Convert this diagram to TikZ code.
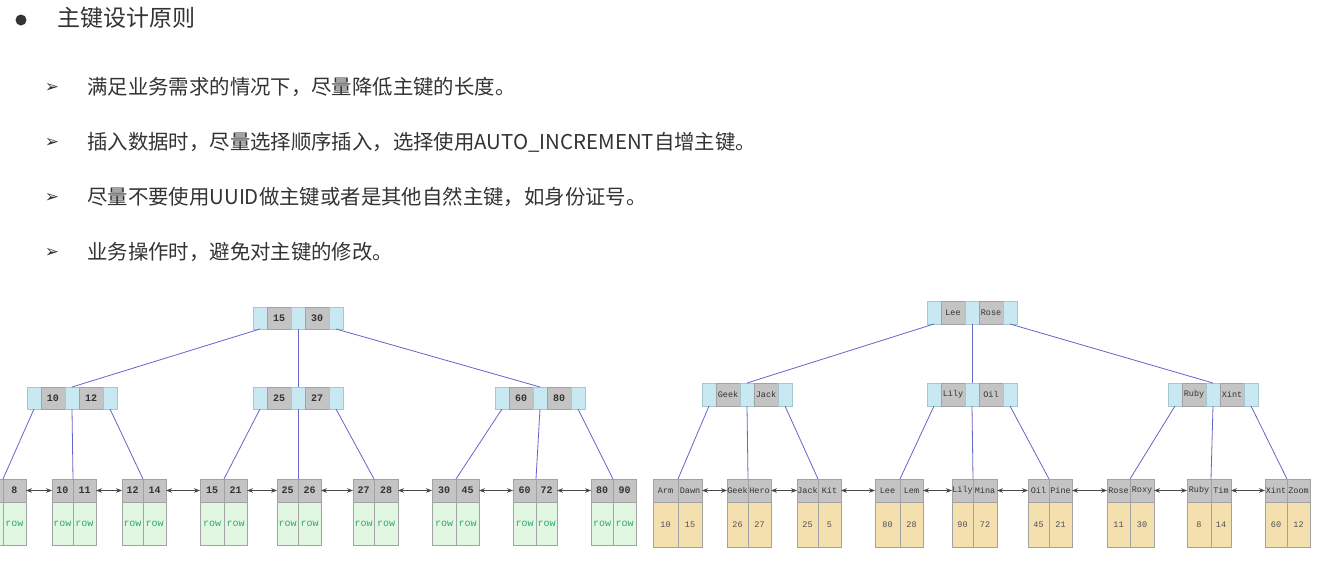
\documentclass[tikz,border=0pt]{standalone}
\usepackage{fontspec}
\setmainfont{Noto Sans CJK SC}
\newfontfamily\dejavu{DejaVu Sans}
\newfontfamily\monof{Liberation Mono}
\usetikzlibrary{arrows.meta}
\definecolor{txt}{HTML}{333333}
\definecolor{ptrfill}{HTML}{C8E8F2}
\definecolor{ptrline}{HTML}{A6C6D0}
\definecolor{keyfill}{HTML}{C4C4C4}
\definecolor{keyline}{HTML}{A2A2A2}
\definecolor{greenbody}{HTML}{E2F7E2}
\definecolor{greentxt}{HTML}{2EAA6A}
\definecolor{tanbody}{HTML}{F4E0AF}
\definecolor{tantxt}{HTML}{505050}
\definecolor{treeline}{HTML}{6666C8}
\definecolor{arrline}{HTML}{484848}
\tikzset{
  ptr/.style={rectangle, draw=ptrline, fill=ptrfill, minimum width=14pt, inner sep=0pt, outer sep=0pt},
  keyc/.style={rectangle, draw=keyline, fill=keyfill, minimum width=24pt, inner sep=0pt, outer sep=0pt, text=black!80},
  lhdr/.style={rectangle, draw=keyline, fill=keyfill, minimum height=23pt, inner sep=0pt, outer sep=0pt, text=black!80},
  lbody/.style={rectangle, draw=keyline, inner sep=0pt, outer sep=0pt},
  tl/.style={draw=treeline, line width=0.8pt},
  larr/.style={draw=arrline, line width=0.6pt, {Stealth[length=6pt,width=4.5pt]}-{Stealth[length=6pt,width=4.5pt]}},
  item/.style={anchor=west, text=txt, font=\fontsize{20.4}{24}\selectfont, inner sep=0pt},
  bmark/.style={text=txt, font=\dejavu\fontsize{17}{18}\selectfont, inner sep=0pt},
}
% internal node: #1 name, #2 x, #3 y, #4 key1, #5 key2, #6 height
\newcommand\inode[6]{%
  \node[ptr, minimum height=#6pt, anchor=north west] (#1p1) at (#2,#3) {};
  \node[keyc, minimum height=#6pt, anchor=north west] (#1k1) at (#1p1.north east) {#4};
  \node[ptr, minimum height=#6pt, anchor=north west] (#1p2) at (#1k1.north east) {};
  \node[keyc, minimum height=#6pt, anchor=north west] (#1k2) at (#1p2.north east) {#5};
  \node[ptr, minimum height=#6pt, anchor=north west] (#1p3) at (#1k2.north east) {};
}
% leaf: #1 name, #2 xl, #3 xd, #4 xr, #5 k1, #6 k2, #7 b1, #8 b2
\newcommand\leaf[8]{%
  \node[lhdr, anchor=north west, minimum width={(#3-(#2))*1pt}] (#1a) at (#2,479) {#5};
  \node[lhdr, anchor=north west, minimum width={(#4-(#3))*1pt}] (#1b) at (#3,479) {#6};
  \node[lbody, anchor=north west, minimum width={(#3-(#2))*1pt}] (#1c) at (#2,502) {#7};
  \node[lbody, anchor=north west, minimum width={(#4-(#3))*1pt}] (#1d) at (#3,502) {#8};
}
\begin{document}
\begin{tikzpicture}[x=1pt,y=-1pt]
\useasboundingbox (0,0) rectangle (1326,565);
\clip (0,0) rectangle (1326,565);
\fill[white] (0,0) rectangle (1326,565);

% ---- text ----
\fill[txt] (21,20) circle (5.5);
\node[anchor=west, text=txt, font=\fontsize{23}{27}\selectfont, inner sep=0pt] (title) at (57,18) {主键设计原则};
\node[bmark] (m1) at (52,88) {➢};
\node[item] (i1) at (87,87) {满足业务需求的情况下，尽量降低主键的长度。};
\node[bmark] (m2) at (52,143) {➢};
\node[item] (i2) at (87,142) {插入数据时，尽量选择顺序插入，选择使用AUTO\_INCREMENT自增主键。};
\node[bmark] (m3) at (52,198) {➢};
\node[item] (i3) at (87,197) {尽量不要使用UUID做主键或者是其他自然主键，如身份证号。};
\node[bmark] (m4) at (52,253) {➢};
\node[item] (i4) at (87,252) {业务操作时，避免对主键的修改。};

% ---- left tree ----
\begin{scope}[every node/.append style={font=\monof\bfseries\fontsize{10}{12}\selectfont},
  lbody/.append style={fill=greenbody, minimum height=43pt, text=greentxt, font=\monof\fontsize{10}{12}\selectfont}]
\inode{A}{253}{307}{15}{30}{22}
\inode{B}{27}{387}{10}{12}{22}
\inode{C}{253}{387}{25}{27}{22}
\inode{D}{495}{387}{60}{80}{22}
\leaf{La}{-19}{3}{26}{}{8}{}{row}
\leaf{Lb}{52}{73}{96}{10}{11}{row}{row}
\leaf{Lc}{122}{143}{166}{12}{14}{row}{row}
\leaf{Ld}{200}{224}{247}{15}{21}{row}{row}
\leaf{Le}{277}{298}{321}{25}{26}{row}{row}
\leaf{Lf}{353}{374}{398}{27}{28}{row}{row}
\leaf{Lg}{432}{456}{479}{30}{45}{row}{row}
\leaf{Lh}{513}{536}{557}{60}{72}{row}{row}
\leaf{Li}{591}{613}{636}{80}{90}{row}{row}
\end{scope}
\draw[tl] (Ap1.south) -- (Bp2.north);
\draw[tl] (Ap2.south) -- (Cp2.north);
\draw[tl] (Ap3.south) -- (Dp2.north);
\draw[tl] (Bp1.south) -- (Lab.north west);
\draw[tl] (Bp2.south) -- (Lbb.north west);
\draw[tl] (Bp3.south) -- (Lcb.north west);
\draw[tl] (Cp1.south) -- (Ldb.north west);
\draw[tl] (Cp2.south) -- (Leb.north west);
\draw[tl] (Cp3.south) -- (Lfb.north west);
\draw[tl] (Dp1.south) -- (Lgb.north west);
\draw[tl] (Dp2.south) -- (Lhb.north west);
\draw[tl] (Dp3.south) -- (Lib.north west);
\draw[larr] (Lab.east) -- (Lba.west);
\draw[larr] (Lbb.east) -- (Lca.west);
\draw[larr] (Lcb.east) -- (Lda.west);
\draw[larr] (Ldb.east) -- (Lea.west);
\draw[larr] (Leb.east) -- (Lfa.west);
\draw[larr] (Lfb.east) -- (Lga.west);
\draw[larr] (Lgb.east) -- (Lha.west);
\draw[larr] (Lhb.east) -- (Lia.west);

% ---- right tree ----
\begin{scope}[every node/.append style={font=\monof\fontsize{8.5}{10}\selectfont},
  lbody/.append style={fill=tanbody, minimum height=45pt, text=tantxt}]
\inode{R}{927}{301}{Lee}{Rose}{23}
\inode{S}{702}{383}{Geek}{Jack}{23}
\inode{T}{927}{383}{Lily}{Oil}{23}
\inode{U}{1168}{383}{Ruby}{Xint}{23}
\leaf{Ma}{653}{678}{702}{Arm}{Dawn}{10}{15}
\leaf{Mb}{727}{748}{771}{Geek}{Hero}{26}{27}
\leaf{Mc}{797}{818}{841}{Jack}{Kit}{25}{5}
\leaf{Md}{875}{900}{923}{Lee}{Lem}{80}{28}
\leaf{Me}{952}{973}{997}{Lily}{Mina}{90}{72}
\leaf{Mf}{1028}{1049}{1072}{Oil}{Pine}{45}{21}
\leaf{Mg}{1107}{1130}{1154}{Rose}{Roxy}{11}{30}
\leaf{Mh}{1187}{1211}{1231}{Ruby}{Tim}{8}{14}
\leaf{Mi}{1265}{1287}{1310}{Xint}{Zoom}{60}{12}
\end{scope}
\draw[tl] (Rp1.south) -- (Sp2.north);
\draw[tl] (Rp2.south) -- (Tp2.north);
\draw[tl] (Rp3.south) -- (Up2.north);
\draw[tl] (Sp1.south) -- (Mab.north west);
\draw[tl] (Sp2.south) -- (Mbb.north west);
\draw[tl] (Sp3.south) -- (Mcb.north west);
\draw[tl] (Tp1.south) -- (Mdb.north west);
\draw[tl] (Tp2.south) -- (Meb.north west);
\draw[tl] (Tp3.south) -- (Mfb.north west);
\draw[tl] (Up1.south) -- (Mgb.north west);
\draw[tl] (Up2.south) -- (Mhb.north west);
\draw[tl] (Up3.south) -- (Mib.north west);
\draw[larr] (Mab.east) -- (Mba.west);
\draw[larr] (Mbb.east) -- (Mca.west);
\draw[larr] (Mcb.east) -- (Mda.west);
\draw[larr] (Mdb.east) -- (Mea.west);
\draw[larr] (Meb.east) -- (Mfa.west);
\draw[larr] (Mfb.east) -- (Mga.west);
\draw[larr] (Mgb.east) -- (Mha.west);
\draw[larr] (Mhb.east) -- (Mia.west);
\end{tikzpicture}
\end{document}
